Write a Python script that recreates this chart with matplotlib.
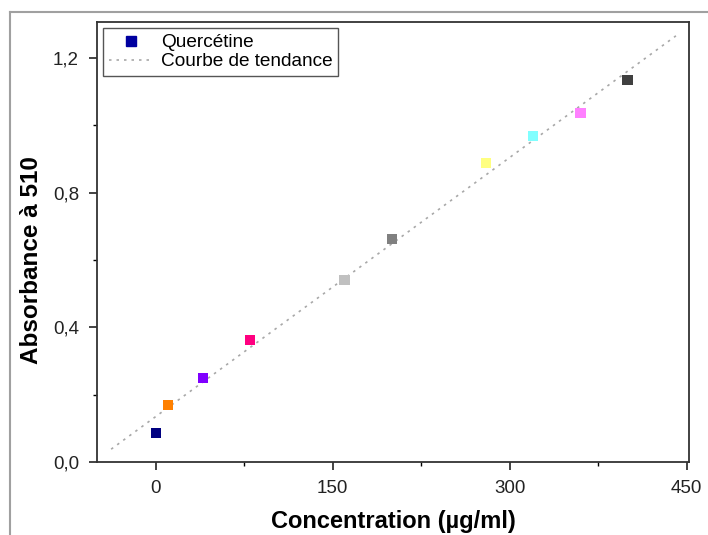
import matplotlib.pyplot as plt
import numpy as np
from matplotlib.lines import Line2D
from matplotlib.ticker import MultipleLocator, FuncFormatter

plt.rcParams['font.family'] = ['Liberation Sans', 'DejaVu Sans']

# Quercetin calibration data
concentration = [0, 10, 40, 80, 160, 200, 280, 320, 360, 400]
absorbance = [0.086, 0.169, 0.249, 0.362, 0.541, 0.662, 0.888, 0.968, 1.037, 1.135]
# Origin default palette colours for each point
point_colors = ["#000080", "#FF8000", "#8000FF", "#FF0080", "#C0C0C0",
                "#808080", "#FFFF80", "#80FFFF", "#FF80FF", "#404040"]
trend_range = [-38, 441]

x_ticks = [0, 150, 300, 450]
y_ticks = [0.0, 0.4, 0.8, 1.2]

fig = plt.figure(figsize=(7.08, 5.35), dpi=100)
ax = fig.add_axes([0.137, 0.1364, 0.836, 0.8225])

# outer frame of the original image
fig.add_artist(Line2D([10 / 708, 1], [1 - 12 / 535] * 2, color="#a0a0a0", lw=1.5))
fig.add_artist(Line2D([10 / 708] * 2, [0, 1 - 12 / 535], color="#a0a0a0", lw=1.5))

# linear trend line from the data
slope, intercept = np.polyfit(concentration, absorbance, 1)
xt = np.array(trend_range)
ax.plot(xt, slope * xt + intercept, linestyle=(0, (1.5, 3)), color="#a8a8a8",
        lw=1.2, zorder=1)

ax.scatter(concentration, absorbance, marker="s", s=55, c=point_colors,
           edgecolors="none", zorder=3)

ax.set_xlim(-50, 452)
ax.set_ylim(0, 1.307)
ax.set_xticks(x_ticks)
ax.set_yticks(y_ticks)
ax.xaxis.set_minor_locator(MultipleLocator(75))
ax.yaxis.set_minor_locator(MultipleLocator(0.2))
ax.yaxis.set_major_formatter(FuncFormatter(lambda v, p: f"{v:.1f}".replace(".", ",")))
ax.tick_params(which="major", direction="out", length=6, width=1.2, labelsize=13.5,
               pad=7, colors="#222222")
ax.tick_params(which="minor", direction="out", length=3, width=1)
for s in ax.spines.values():
    s.set_linewidth(1.3)
    s.set_color("#333333")

ax.set_xlabel("Concentration (µg/ml)", fontsize=17, fontweight="bold", labelpad=9)
ax.set_ylabel("Absorbance à 510", fontsize=17.5, fontweight="bold", labelpad=7, y=0.46)

handles = [
    Line2D([], [], marker="s", color="#0000A0", linestyle="none", markersize=7),
    Line2D([], [], linestyle=(0, (1.5, 3)), color="#a8a8a8", lw=1.2),
]
leg = ax.legend(handles, ["Quercétine", "Courbe de tendance"], loc="upper left",
                bbox_to_anchor=(0.01, 0.986), borderaxespad=0, fancybox=False,
                edgecolor="#555555", fontsize=13.7, handlelength=2.3,
                borderpad=0.3, labelspacing=0.1, handletextpad=0.45, framealpha=1)
leg.get_frame().set_linewidth(1)

fig.savefig("out.png", dpi=100)
